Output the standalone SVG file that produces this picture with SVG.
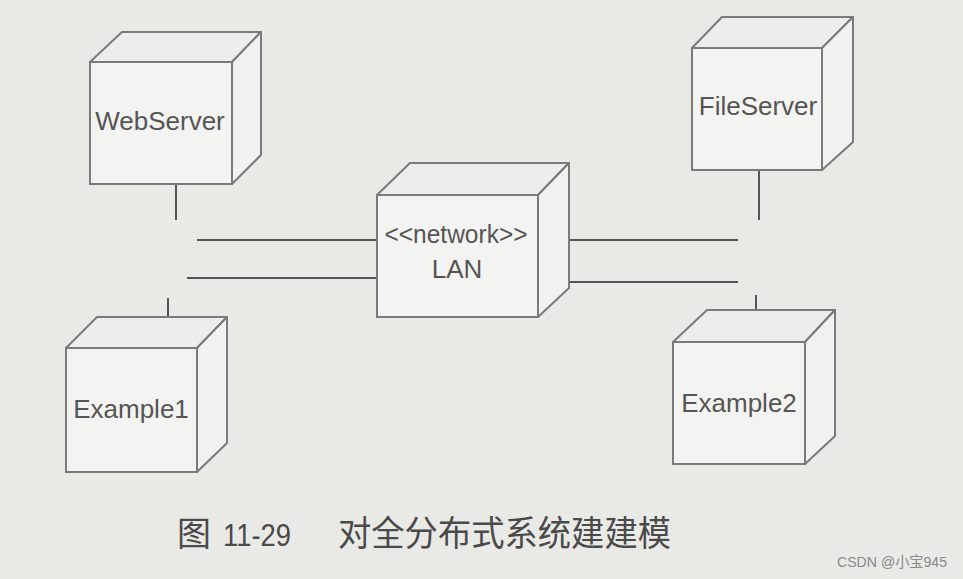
<svg xmlns="http://www.w3.org/2000/svg" width="963" height="579" viewBox="0 0 963 579">
<defs>
<style>
.f{fill:#f3f3f1;stroke:#7a7a7a;stroke-width:2}
.t{fill:#ededeb;stroke:#7a7a7a;stroke-width:2;stroke-linejoin:round}
.s{fill:#f1f1ef;stroke:#7a7a7a;stroke-width:2;stroke-linejoin:round}
.c{stroke:#555;stroke-width:2;fill:none}
.lbl{font-family:"Liberation Sans",Arial,sans-serif;font-size:26px;fill:#555;text-anchor:middle}
.cap{font-family:"Liberation Sans","Noto Sans CJK SC",sans-serif;fill:#4a4a4a}
</style>
</defs>
<rect width="963" height="579" fill="#e9e9e6"/>
<g id="connectors">
<line class="c" x1="176" y1="184" x2="176" y2="220"/>
<line class="c" x1="197" y1="240" x2="377" y2="240"/>
<line class="c" x1="187" y1="278" x2="377" y2="278"/>
<line class="c" x1="168" y1="298" x2="168" y2="317"/>
<line class="c" x1="759" y1="170" x2="759" y2="220"/>
<line class="c" x1="569" y1="240" x2="738" y2="240"/>
<line class="c" x1="569" y1="282" x2="738" y2="282"/>
<line class="c" x1="756" y1="295" x2="756" y2="310"/>
</g>
<g id="WebServer">
<polygon class="t" points="90,62 122,32 261,32 232,62"/>
<polygon class="s" points="232,62 261,32 261,155 232,184"/>
<rect class="f" x="90" y="62" width="142" height="122"/>
<text class="lbl" x="160" y="130">WebServer</text>
</g>
<g id="LAN">
<polygon class="t" points="377,195 410,163 569,163 538,195"/>
<polygon class="s" points="538,195 569,163 569,288 538,317"/>
<rect class="f" x="377" y="195" width="161" height="122"/>
<text class="lbl" x="456" y="243" font-size="23" textLength="143" lengthAdjust="spacingAndGlyphs">&lt;&lt;network&gt;&gt;</text>
<text class="lbl" x="457" y="278">LAN</text>
</g>
<g id="FileServer">
<polygon class="t" points="692,48 722,17 853,17 822,48"/>
<polygon class="s" points="822,48 853,17 853,142 822,170"/>
<rect class="f" x="692" y="48" width="130" height="122"/>
<text class="lbl" x="758" y="115">FileServer</text>
</g>
<g id="Example1">
<polygon class="t" points="66,348 97,317 227,317 197,348"/>
<polygon class="s" points="197,348 227,317 227,443 197,472"/>
<rect class="f" x="66" y="348" width="131" height="124"/>
<text class="lbl" x="131" y="418">Example1</text>
</g>
<g id="Example2">
<polygon class="t" points="673,342 707,310 835,310 805,342"/>
<polygon class="s" points="805,342 835,310 835,436 805,464"/>
<rect class="f" x="673" y="342" width="132" height="122"/>
<text class="lbl" x="739" y="412">Example2</text>
</g>
<g id="caption">
<text class="cap" x="177" y="546" font-size="34" font-family="'Noto Sans CJK SC',sans-serif">图</text>
<text class="cap" x="223" y="546" font-size="32" textLength="68" lengthAdjust="spacingAndGlyphs">11-29</text>
<text class="cap" x="338" y="546" font-size="35" textLength="333" lengthAdjust="spacingAndGlyphs" font-family="'Noto Sans CJK SC',sans-serif">对全分布式系统建建模</text>
</g>
<text x="837" y="567" font-family="'Liberation Sans','Noto Sans CJK SC',sans-serif" font-size="15" fill="#8a8a8a" textLength="110" lengthAdjust="spacingAndGlyphs">CSDN @小宝945</text>
</svg>
